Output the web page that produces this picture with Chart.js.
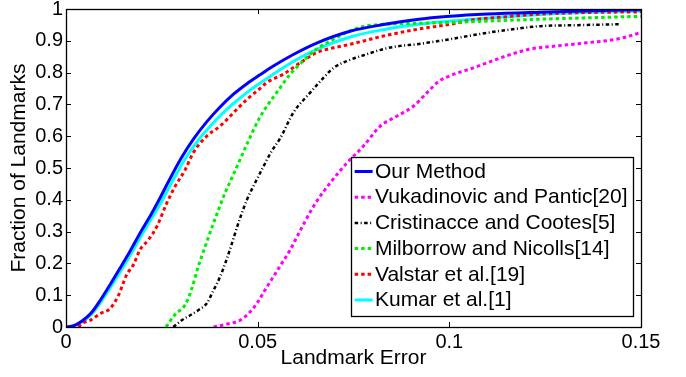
<!DOCTYPE html>
<html>
<head>
<meta charset="utf-8">
<script src="https://cdn.jsdelivr.net/npm/chart.js@4.4.1/dist/chart.umd.min.js"></script>
<style>
html,body{margin:0;padding:0;background:#fff;}
#wrap{width:686px;height:377px;position:relative;}
canvas{display:block;}
</style>
</head>
<body>
<div id="wrap"><canvas id="c" width="686" height="377"></canvas></div>
<script>
// ---------- data ----------
const seriesLabels = ["Our Method", "Vukadinovic and Pantic[20]", "Cristinacce and Cootes[5]", "Milborrow and Nicolls[14]", "Valstar et al.[19]", "Kumar et al.[1]"];
const xTickValues = [0, 0.05, 0.1, 0.15];
const yTickValues = [0, 0.1, 0.2, 0.3, 0.4, 0.5, 0.6, 0.7, 0.8, 0.9, 1];
const xAxisTitle = "Landmark Error";
const yAxisTitle = "Fraction of Landmarks";

const ourErr  = [0, 0.002, 0.004, 0.0065, 0.009, 0.0115, 0.0141, 0.0167, 0.0193, 0.022, 0.0245, 0.0265, 0.03, 0.0332, 0.0367, 0.0402, 0.0437, 0.0472, 0.0506, 0.054, 0.0593, 0.0654, 0.0741, 0.0828, 0.0915, 0.1002, 0.11, 0.1237, 0.135, 0.15];
const ourFrac = [0, 0.004, 0.017, 0.043, 0.085, 0.133, 0.185, 0.238, 0.295, 0.35, 0.405, 0.452, 0.53, 0.59, 0.645, 0.692, 0.732, 0.765, 0.793, 0.82, 0.857, 0.893, 0.93, 0.951, 0.967, 0.977, 0.984, 0.99, 0.994, 0.998];

const vukErr  = [0.0385, 0.042, 0.0454, 0.0476, 0.0498, 0.0519, 0.0541, 0.0563, 0.0585, 0.0604, 0.0646, 0.0689, 0.0733, 0.0776, 0.082, 0.0863, 0.0907, 0.0942, 0.0972, 0.1002, 0.1063, 0.115, 0.1211, 0.1281, 0.1368, 0.1437, 0.15];
const vukFrac = [0, 0.009, 0.021, 0.042, 0.074, 0.116, 0.158, 0.2, 0.243, 0.287, 0.38, 0.453, 0.516, 0.569, 0.632, 0.663, 0.695, 0.737, 0.772, 0.79, 0.815, 0.853, 0.874, 0.884, 0.895, 0.905, 0.926];

const criErr  = [0.028, 0.0302, 0.0324, 0.0345, 0.0367, 0.0385, 0.0402, 0.042, 0.0437, 0.0454, 0.0472, 0.0493, 0.0511, 0.0535, 0.0559, 0.0593, 0.0637, 0.0672, 0.0698, 0.0741, 0.0785, 0.0828, 0.0872, 0.0915, 0.0959, 0.1002, 0.1063, 0.115, 0.1237, 0.1324, 0.1446];
const criFrac = [0, 0.021, 0.037, 0.053, 0.074, 0.116, 0.158, 0.216, 0.279, 0.342, 0.4, 0.453, 0.495, 0.55, 0.594, 0.674, 0.737, 0.784, 0.815, 0.84, 0.858, 0.874, 0.884, 0.889, 0.897, 0.905, 0.918, 0.934, 0.946, 0.949, 0.952];

const milErr  = [0.0261, 0.0285, 0.0311, 0.0328, 0.0345, 0.0363, 0.038, 0.0398, 0.0415, 0.0437, 0.0472, 0.0506, 0.055, 0.0585, 0.0619, 0.0654, 0.0698, 0.0741, 0.0776, 0.0828, 0.0915, 0.1002, 0.11, 0.1237, 0.135, 0.15];
const milFrac = [0, 0.04, 0.07, 0.12, 0.19, 0.253, 0.311, 0.369, 0.422, 0.48, 0.575, 0.66, 0.738, 0.795, 0.837, 0.874, 0.905, 0.931, 0.945, 0.952, 0.955, 0.958, 0.962, 0.968, 0.972, 0.977];

const valErr  = [0.0032, 0.0045, 0.0063, 0.0089, 0.0115, 0.0137, 0.0158, 0.0176, 0.0193, 0.0215, 0.0237, 0.0263, 0.0285, 0.0311, 0.0332, 0.0367, 0.0402, 0.0437, 0.0472, 0.0506, 0.0524, 0.0567, 0.0611, 0.0654, 0.0698, 0.0741, 0.0828, 0.0915, 0.1002, 0.1063, 0.115, 0.1237, 0.1368, 0.15];
const valFrac = [0, 0.013, 0.021, 0.042, 0.058, 0.1, 0.164, 0.196, 0.243, 0.274, 0.316, 0.39, 0.443, 0.495, 0.548, 0.6, 0.632, 0.674, 0.716, 0.75, 0.769, 0.795, 0.831, 0.863, 0.878, 0.889, 0.915, 0.936, 0.952, 0.966, 0.976, 0.984, 0.989, 0.991];

const kumErr  = [0, 0.002, 0.004, 0.0065, 0.009, 0.0115, 0.0141, 0.0167, 0.0193, 0.022, 0.0245, 0.028, 0.0315, 0.035, 0.0385, 0.042, 0.0454, 0.048, 0.0532, 0.0593, 0.0654, 0.0741, 0.0828, 0.0915, 0.1002, 0.11, 0.1237, 0.135, 0.15];
const kumFrac = [0, 0.003, 0.014, 0.038, 0.077, 0.123, 0.173, 0.225, 0.28, 0.335, 0.385, 0.464, 0.537, 0.595, 0.643, 0.685, 0.72, 0.745, 0.788, 0.835, 0.873, 0.912, 0.935, 0.951, 0.962, 0.971, 0.983, 0.989, 0.994];

// ---------- build ----------
const FONT = "'Liberation Sans', Arial, Helvetica, sans-serif";
const pts = (xs, ys) => xs.map((x, i) => ({x: x, y: ys[i]}));
const styles = [
  {color: '#0000ff', width: 3, dash: []},
  {color: '#ff00ff', width: 3, dash: [3.5, 3]},
  {color: '#000000', width: 2.5, dash: [3.5, 2.5, 1, 2.5]},
  {color: '#00ee00', width: 3, dash: [3.5, 3]},
  {color: '#ff0000', width: 3, dash: [3.5, 3]},
  {color: '#00ffff', width: 3, dash: []}
];
const seriesData = [pts(ourErr, ourFrac), pts(vukErr, vukFrac), pts(criErr, criFrac), pts(milErr, milFrac), pts(valErr, valFrac), pts(kumErr, kumFrac)];

const datasets = seriesLabels.map((lab, i) => ({
  label: lab,
  data: seriesData[i],
  borderColor: styles[i].color,
  backgroundColor: styles[i].color,
  borderWidth: styles[i].width,
  borderDash: styles[i].dash,
  borderCapStyle: 'butt',
  pointRadius: 0,
  cubicInterpolationMode: 'monotone',
  fill: false
}));

// axes box with inward ticks (MATLAB style)
const boxPlugin = {
  id: 'box',
  afterDatasetsDraw(chart) {
    const {ctx, chartArea: a, scales: {x, y}} = chart;
    ctx.save();
    ctx.strokeStyle = '#000';
    ctx.lineWidth = 1;
    const L = 5;
    ctx.beginPath();
    x.ticks.forEach(t => {
      const px = Math.round(x.getPixelForValue(t.value)) + 0.5;
      ctx.moveTo(px, a.bottom); ctx.lineTo(px, a.bottom - L);
      ctx.moveTo(px, a.top); ctx.lineTo(px, a.top + L);
    });
    y.ticks.forEach(t => {
      const py = Math.round(y.getPixelForValue(t.value)) + 0.5;
      ctx.moveTo(a.left, py); ctx.lineTo(a.left + L, py);
      ctx.moveTo(a.right, py); ctx.lineTo(a.right - L, py);
    });
    ctx.stroke();
    ctx.lineWidth = 1.3;
    ctx.strokeRect(Math.round(a.left) + 0.5, Math.round(a.top) + 0.5, Math.round(a.right - a.left), Math.round(a.bottom - a.top));
    ctx.restore();
  }
};

// MATLAB-style legend box inside the axes (lower right)
const legendPlugin = {
  id: 'matlabLegend',
  afterDraw(chart) {
    const {ctx, chartArea: a} = chart;
    const ds = chart.data.datasets;
    ctx.save();
    ctx.font = "21px " + FONT;
    const textW = Math.max(...ds.map(d => ctx.measureText(d.label).width));
    const rowH = 25.7;
    const right = a.right - 8;
    const bottom = a.bottom - 11;
    const w = textW + 29.5;
    const h = rowH * ds.length + 5;
    const left = right - w;
    const top = bottom - h;
    ctx.fillStyle = '#fff';
    ctx.fillRect(left, top, w, h);
    ctx.strokeStyle = '#000';
    ctx.lineWidth = 1.3;
    ctx.strokeRect(Math.round(left) + 0.5, Math.round(top) + 0.5, Math.round(w), Math.round(h));
    ds.forEach((d, i) => {
      const cy = top + 14.7 + i * rowH;
      ctx.save();
      ctx.strokeStyle = d.borderColor;
      ctx.lineWidth = d.borderWidth;
      ctx.setLineDash(d.borderDash || []);
      ctx.beginPath();
      ctx.moveTo(left + 3.7, cy);
      ctx.lineTo(left + 21.7, cy);
      ctx.stroke();
      ctx.restore();
      ctx.fillStyle = '#000';
      ctx.textBaseline = 'middle';
      ctx.textAlign = 'left';
      ctx.fillText(d.label, left + 24, cy + 0.5);
    });
    ctx.restore();
  }
};

const fmt = v => String(v);

new Chart(document.getElementById('c'), {
  type: 'line',
  data: {datasets: datasets},
  options: {
    responsive: false,
    animation: false,
    devicePixelRatio: 1,
    layout: {padding: {left: 0, right: 45, top: 9, bottom: 0}},
    plugins: {legend: {display: false}, tooltip: {enabled: false}},
    scales: {
      x: {
        type: 'linear', min: 0, max: 0.15,
        afterBuildTicks: s => { s.ticks = xTickValues.map(v => ({value: v})); },
        afterFit: s => { s.height = 50; s.paddingLeft = 0; s.paddingRight = 0; },
        grid: {display: false, drawTicks: false},
        border: {display: false},
        ticks: {color: '#000', padding: 3, maxRotation: 0, autoSkip: false, font: {family: FONT, size: 20}, callback: v => fmt(v)},
        title: {display: true, text: xAxisTitle, color: '#000', font: {family: FONT, size: 21, lineHeight: 1.2}, padding: {top: 0, bottom: 6}}
      },
      y: {
        type: 'linear', min: 0, max: 1,
        afterBuildTicks: s => { s.ticks = yTickValues.map(v => ({value: v})); },
        afterFit: s => { s.width = 66; s.paddingTop = 0; s.paddingBottom = 0; },
        grid: {display: false, drawTicks: false},
        border: {display: false},
        ticks: {color: '#000', padding: 3, autoSkip: false, font: {family: FONT, size: 20}, callback: v => fmt(v)},
        title: {display: true, text: yAxisTitle, color: '#000', font: {family: FONT, size: 21, lineHeight: 1.2}, padding: {top: 7, bottom: 0}}
      }
    }
  },
  plugins: [boxPlugin, legendPlugin]
});
</script>
</body>
</html>
